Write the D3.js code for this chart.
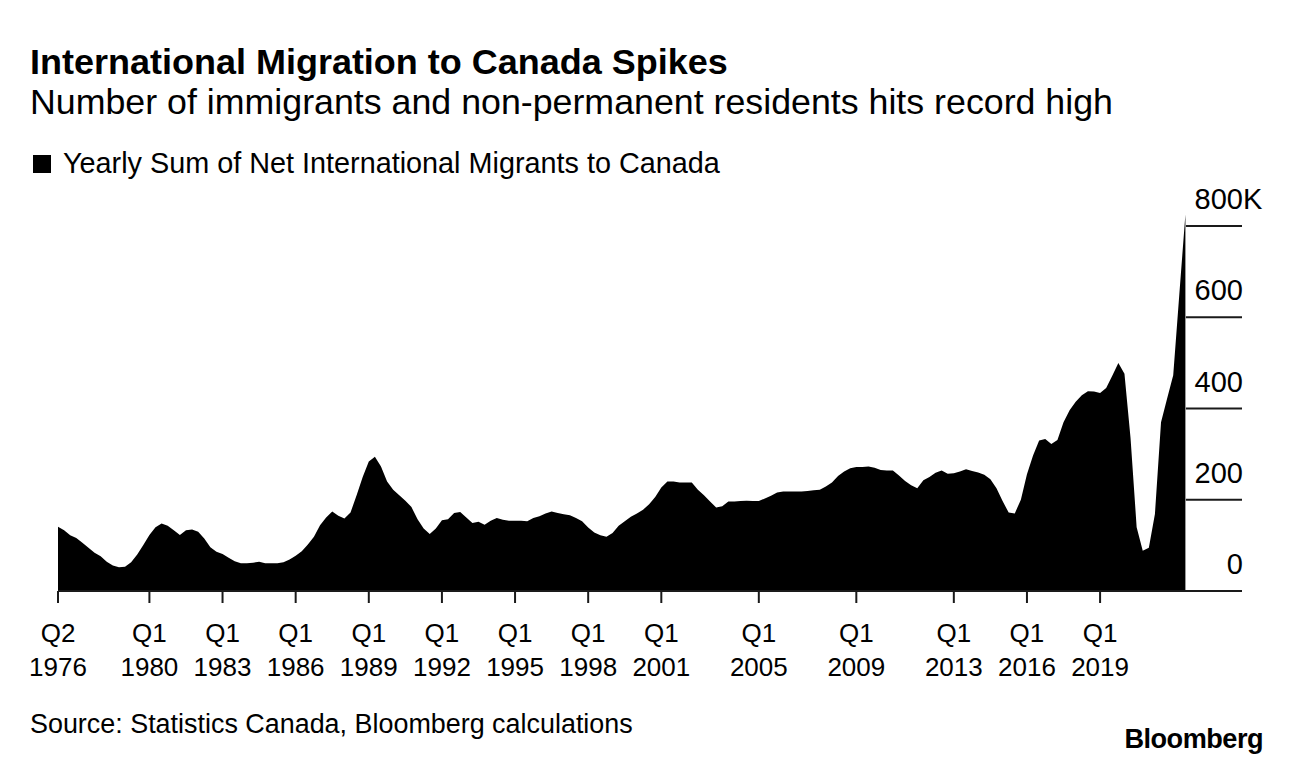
<!DOCTYPE html>
<html>
<head>
<meta charset="utf-8">
<script src="https://cdn.jsdelivr.net/npm/d3@7"></script>
<style>
  html, body { margin: 0; padding: 0; background: #fff; }
  svg text { font-family: "Liberation Sans", Arial, Helvetica, sans-serif; fill: #000; }
</style>
</head>
<body>
<svg id="chart" width="1292" height="764"></svg>
<script>
// ---- Data ----
const titleText = "International Migration to Canada Spikes";
const subtitleText = "Number of immigrants and non-permanent residents hits record high";
const legendLabel = "Yearly Sum of Net International Migrants to Canada";
const sourceText = "Source: Statistics Canada, Bloomberg calculations";
const brandText = "Bloomberg";

// First data point: Q2 1976, quarterly through Q3 2022 (thousands of people)
const startYear = 1976;
const startQuarter = 2;
const netMigrants = [
  141,133,122,116,106,95,84,76,64,56,52,53,63,80,101,123,140,148,143,133,
  123,133,135,130,115,96,86,81,73,65,61,61,62,64,61,61,61,63,69,77,
  87,102,119,144,161,174,165,159,172,210,250,284,294,273,240,222,210,198,184,157,
  137,125,137,155,157,171,173,161,149,152,145,154,160,156,154,154,154,153,160,164,
  170,174,171,168,166,160,153,139,128,122,119,127,143,153,163,170,178,190,206,227,
  240,240,238,238,238,222,210,196,183,186,196,196,197,198,197,197,203,209,216,218,
  218,218,218,219,221,222,229,238,252,262,269,272,272,273,270,265,264,264,253,241,
  232,225,243,250,259,264,257,258,262,267,263,260,255,245,225,197,172,170,200,256,
  297,330,333,322,331,370,396,415,429,438,437,434,445,472,500,476,335,140,88,95,
  169,370,422,473,650,825
];

// X-axis tick labels (quarter, year)
const tickQuarterLabels = ["Q2","Q1","Q1","Q1","Q1","Q1","Q1","Q1","Q1","Q1","Q1","Q1","Q1","Q1"];
const tickYearLabels    = [1976,1980,1983,1986,1989,1992,1995,1998,2001,2005,2009,2013,2016,2019];

// Y-axis ticks (thousands)
const yTickValues = [0, 200, 400, 600, 800];

// ---- Layout ----
const svg = d3.select("#chart");
const baseY = 591, topY = 226;
const leftX = 58, rightDataX = 1185.4, axisEndX = 1242;

const quarterIndex = (year, q) => (year - startYear) * 4 + (q - startQuarter);

const x = d3.scaleLinear()
  .domain([0, netMigrants.length - 1])
  .range([leftX, rightDataX]);

const y = d3.scaleLinear()
  .domain([0, 800])
  .range([baseY, topY]);

// Area
const area = d3.area()
  .x((d, i) => x(i))
  .y0(y(0))
  .y1(d => y(d))
  .curve(d3.curveLinear);

svg.append("path")
  .datum(netMigrants)
  .attr("d", area)
  .attr("fill", "#000");

// Right-side gridlines (short segments)
const gridG = svg.append("g");
gridG.selectAll("line")
  .data(yTickValues.filter(v => v > 0))
  .join("line")
  .attr("x1", rightDataX + 0.5)
  .attr("x2", axisEndX)
  .attr("y1", d => y(d))
  .attr("y2", d => y(d))
  .attr("stroke", "#1a1a1a")
  .attr("stroke-width", 2);

// Y tick labels
const yLab = svg.append("g");
yLab.selectAll("text")
  .data(yTickValues)
  .join("text")
  .attr("x", 1243)
  .attr("y", d => y(d) - 17)
  .attr("text-anchor", "end")
  .attr("font-size", 29)
  .text(d => d);
// "K" suffix on top label
svg.append("text")
  .attr("x", 1243)
  .attr("y", y(800) - 17)
  .attr("font-size", 29)
  .text("K");

// X axis baseline
svg.append("line")
  .attr("x1", leftX)
  .attr("x2", axisEndX)
  .attr("y1", baseY)
  .attr("y2", baseY)
  .attr("stroke", "#1a1a1a")
  .attr("stroke-width", 2);

// X ticks
const ticks = tickYearLabels.map((yr, k) => ({
  idx: quarterIndex(yr, +tickQuarterLabels[k].slice(1)),
  q: tickQuarterLabels[k],
  yr: yr
}));
const tg = svg.append("g");
tg.selectAll("line")
  .data(ticks)
  .join("line")
  .attr("x1", d => x(d.idx))
  .attr("x2", d => x(d.idx))
  .attr("y1", baseY)
  .attr("y2", baseY + 12)
  .attr("stroke", "#1a1a1a")
  .attr("stroke-width", 2);
tg.selectAll("text.q")
  .data(ticks)
  .join("text")
  .attr("class", "q")
  .attr("x", d => x(d.idx))
  .attr("y", 642)
  .attr("text-anchor", "middle")
  .attr("font-size", 26)
  .text(d => d.q);
tg.selectAll("text.yr")
  .data(ticks)
  .join("text")
  .attr("class", "yr")
  .attr("x", d => x(d.idx))
  .attr("y", 676)
  .attr("text-anchor", "middle")
  .attr("font-size", 26)
  .text(d => d.yr);

// Titles
function fitText(sel, target) {
  const w = sel.node().getComputedTextLength();
  const fs = parseFloat(sel.attr("font-size"));
  sel.attr("font-size", (fs * target / w).toFixed(2));
}

const title = svg.append("text")
  .attr("x", 30).attr("y", 74)
  .attr("font-size", 30)
  .attr("font-weight", "bold")
  .text(titleText);
fitText(title, 698);

const subtitle = svg.append("text")
  .attr("x", 30).attr("y", 114)
  .attr("font-size", 28)
  .text(subtitleText);
fitText(subtitle, 1083);

// Legend
svg.append("rect")
  .attr("x", 33).attr("y", 155)
  .attr("width", 18).attr("height", 18)
  .attr("fill", "#000");
const leg = svg.append("text")
  .attr("x", 63).attr("y", 173)
  .attr("font-size", 25)
  .text(legendLabel);
fitText(leg, 657);

// Source
const src = svg.append("text")
  .attr("x", 30).attr("y", 733)
  .attr("font-size", 25)
  .text(sourceText);
fitText(src, 603);

// Brand
const brand = svg.append("text")
  .attr("x", 1263).attr("y", 748)
  .attr("text-anchor", "end")
  .attr("font-size", 24)
  .attr("font-weight", "bold")
  .attr("letter-spacing", -0.5)
  .text(brandText);
fitText(brand, 138);
</script>
</body>
</html>
